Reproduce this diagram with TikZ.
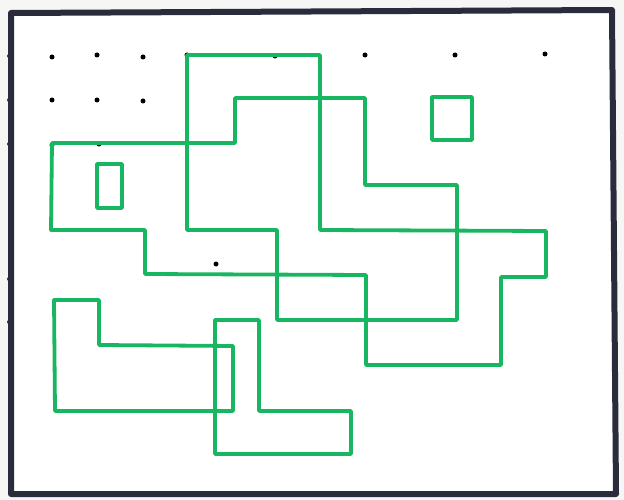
\documentclass[tikz,border=0pt]{standalone}
\usetikzlibrary{backgrounds}
\definecolor{markergreen}{RGB}{24,182,96}
\definecolor{boardframe}{RGB}{42,44,60}
\definecolor{wallgray}{RGB}{246,246,244}

\begin{document}
\begin{tikzpicture}[x=1pt,y=-1pt,
  track/.style={draw=markergreen,line width=3.8pt,line join=round,line cap=round},
  boardedge/.style={draw=boardframe,line width=6pt,line join=round},
  gridpt/.style={fill=black,circle,inner sep=0pt,minimum size=5pt},
  tickpt/.style={fill=boardframe,circle,inner sep=0pt,minimum size=4pt},
]
\useasboundingbox (0,0) rectangle (624,500);

% ---- Board ------------------------------------------------------------------
\fill[wallgray] (0,0) rectangle (624,500);
\fill[white] (11,13) rectangle (616,494);
\draw[boardedge] (11,494) -- (11,13) -- (612,10) -- (616,494) -- cycle;

% ---- Grid dots --------------------------------------------------------------
\foreach \x/\y [count=\i] in {52/57, 97/55, 143/57, 187/55, 275/56, 365/55, 455/55, 545/54,
                              52/100, 97/100, 143/101,
                              52/145, 99/144, 187/144, 216/264}{
  \node[gridpt] (dot\i) at (\x,\y) {};
}
\foreach \y [count=\i] in {56, 100, 144, 279, 322}{
  \node[tickpt] (tick\i) at (9,\y) {};
}

% ---- Long closed track ------------------------------------------------------
\draw[track] (52,143) -- (235,143) -- (235,98) -- (365,98) -- (365,185)
  -- (457,185) -- (457,320) -- (277,320) -- (277,230) -- (187,230)
  -- (187,55) -- (320,55) -- (320,230) -- (546,231) -- (546,277)
  -- (501,277) -- (501,365) -- (366,365) -- (366,275) -- (145,274)
  -- (145,230) -- (51,230) -- cycle;

% ---- Small boxes ------------------------------------------------------------
\draw[track] (97,164) rectangle (122,208);
\draw[track] (432,97) rectangle (472,140);

% ---- Lower shapes -----------------------------------------------------------
\draw[track] (54,300) -- (99,300) -- (99,345) -- (233,346) -- (233,411)
  -- (55,411) -- cycle;
\draw[track] (215,320) -- (259,320) -- (259,411) -- (351,411) -- (351,454)
  -- (215,454) -- cycle;

\end{tikzpicture}
\end{document}
